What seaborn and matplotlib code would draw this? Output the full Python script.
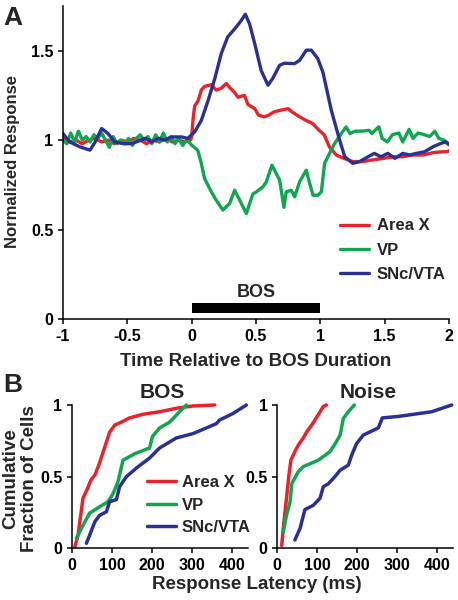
import seaborn as sns
import matplotlib.pyplot as plt
from matplotlib.patches import Rectangle

# ---- Panel A: normalized response vs time (relative to BOS duration) ----
areax_t = [-1.00, -0.95, -0.90, -0.85, -0.80, -0.75, -0.70, -0.65, -0.60, -0.55, -0.50, -0.45,
           -0.40, -0.35, -0.30, -0.25, -0.20, -0.15, -0.10, -0.05, -0.01,
           0.00, 0.01, 0.023, 0.05, 0.075, 0.10, 0.153, 0.19, 0.23, 0.27, 0.30, 0.33, 0.36,
           0.41, 0.437, 0.49, 0.52, 0.565, 0.60, 0.64, 0.69, 0.75, 0.78, 0.84, 0.89, 0.94,
           0.99, 1.03, 1.07, 1.124, 1.176, 1.253, 1.33, 1.41, 1.49, 1.565, 1.64, 1.72, 1.80,
           1.876, 1.95, 1.98, 2.00]
areax_r = [1.01, 0.99, 1.00, 0.98, 1.00, 1.01, 0.99, 1.00, 0.98, 1.00, 0.99, 1.01,
           1.00, 0.98, 1.00, 0.99, 1.01, 0.99, 1.00, 0.99, 1.00,
           1.018, 1.11, 1.19, 1.22, 1.28, 1.30, 1.31, 1.28, 1.29, 1.317, 1.29, 1.27, 1.24,
           1.25, 1.20, 1.176, 1.14, 1.13, 1.14, 1.158, 1.167, 1.176, 1.158, 1.13, 1.11, 1.093,
           1.055, 1.03, 0.963, 0.917, 0.90, 0.88, 0.88, 0.89, 0.898, 0.907, 0.907, 0.917, 0.917,
           0.93, 0.935, 0.935, 0.94]

vp_t = [-1.00, -0.97, -0.94, -0.91, -0.88, -0.85, -0.82, -0.79, -0.76, -0.73, -0.70, -0.67,
        -0.64, -0.61, -0.58, -0.55, -0.52, -0.49, -0.46, -0.43, -0.40, -0.37, -0.34, -0.31,
        -0.28, -0.25, -0.22, -0.19, -0.16, -0.13, -0.10, -0.07, -0.04, -0.01,
        0.00, 0.047, 0.075, 0.10, 0.153, 0.19, 0.243, 0.295, 0.334, 0.373, 0.425, 0.476, 0.502,
        0.554, 0.58, 0.624, 0.66, 0.684, 0.717, 0.735, 0.774, 0.80, 0.839, 0.865, 0.891, 0.917,
        0.943, 0.982, 1.008, 1.033, 1.072, 1.11, 1.163, 1.20, 1.23, 1.27, 1.32, 1.38, 1.40,
        1.455, 1.48, 1.52, 1.56, 1.61, 1.64, 1.69, 1.72, 1.76, 1.81, 1.85, 1.89, 1.92, 1.96, 2.00]
vp_r = [1.00, 0.98, 1.04, 0.99, 1.05, 1.00, 1.02, 0.99, 1.03, 1.01, 1.04, 1.00,
        0.96, 1.02, 0.98, 1.00, 0.98, 1.01, 0.97, 1.01, 1.03, 1.00, 1.02, 0.98,
        1.03, 0.99, 1.04, 0.99, 1.02, 0.98, 1.01, 0.97, 1.00, 0.98,
        0.972, 0.944, 0.87, 0.786, 0.711, 0.665, 0.609, 0.646, 0.72, 0.665, 0.59, 0.70, 0.71,
        0.739, 0.767, 0.86, 0.81, 0.776, 0.624, 0.711, 0.72, 0.683, 0.767, 0.80, 0.832, 0.758,
        0.692, 0.692, 0.711, 0.87, 0.926, 0.98, 1.037, 1.074, 1.037, 1.05, 1.05, 1.055, 1.037,
        1.075, 1.01, 0.99, 1.03, 1.04, 0.99, 1.06, 1.01, 1.04, 1.03, 1.02, 1.05, 1.01, 1.00, 0.98]

snc_t = [-1.00, -0.948, -0.87, -0.79, -0.75, -0.70, -0.65, -0.60, -0.53, -0.47, -0.43, -0.36,
         -0.31, -0.26, -0.21, -0.16, -0.08, -0.03, 0.023, 0.075, 0.127, 0.18, 0.23, 0.28,
         0.347, 0.386, 0.417, 0.45, 0.49, 0.54, 0.593, 0.63, 0.684, 0.72, 0.80, 0.84, 0.891,
         0.93, 0.98, 1.02, 1.085, 1.15, 1.19, 1.253, 1.305, 1.37, 1.42, 1.47, 1.525, 1.58,
         1.64, 1.695, 1.746, 1.81, 1.876, 1.93, 1.97, 2.00]
snc_r = [1.037, 0.99, 0.963, 0.944, 0.99, 1.065, 1.037, 0.99, 0.98, 0.98, 0.99, 1.01,
         0.99, 1.01, 1.00, 1.018, 1.018, 1.01, 1.046, 1.11, 1.22, 1.345, 1.484, 1.577,
         1.633, 1.67, 1.704, 1.65, 1.54, 1.39, 1.307, 1.345, 1.419, 1.43, 1.428, 1.447, 1.503,
         1.503, 1.456, 1.38, 1.168, 1.00, 0.907, 0.87, 0.88, 0.907, 0.926, 0.907, 0.926, 0.898,
         0.926, 0.917, 0.926, 0.935, 0.963, 0.98, 0.99, 0.975]

bos_start, bos_end = 0, 1

# ---- Panel B: cumulative latency distributions (ms) ----
bos_areax_ms = [7, 15, 27.5, 36, 48, 57, 67, 77.5, 86, 94, 107, 123, 144, 177, 219, 261, 302, 357]
bos_areax_f = [0.01, 0.09, 0.35, 0.40, 0.48, 0.51, 0.58, 0.67, 0.74, 0.81, 0.86, 0.88, 0.91,
               0.935, 0.953, 0.977, 0.993, 1.0]
bos_vp_ms = [11, 27.5, 44, 69, 90, 102.5, 115, 127.5, 157, 194, 201, 219, 244, 269, 286]
bos_vp_f = [0.07, 0.16, 0.245, 0.29, 0.325, 0.38, 0.465, 0.615, 0.66, 0.70, 0.78, 0.84, 0.88,
            0.953, 1.0]
bos_snc_ms = [36, 44, 57, 69, 86, 94, 111, 119, 136, 161, 194, 219, 261, 302, 336, 361, 369,
              402, 436]
bos_snc_f = [0.035, 0.09, 0.185, 0.23, 0.255, 0.325, 0.34, 0.43, 0.50, 0.56, 0.63, 0.70, 0.77,
             0.80, 0.84, 0.87, 0.895, 0.94, 1.0]

noise_areax_ms = [11, 15, 23, 29, 34, 44, 52.5, 65, 73, 86, 94, 107, 115, 123]
noise_areax_f = [0.02, 0.14, 0.35, 0.51, 0.615, 0.675, 0.72, 0.77, 0.81, 0.86, 0.895, 0.953,
                 0.99, 1.0]
noise_vp_ms = [15, 23, 32, 36, 52.5, 65, 102.5, 132, 148, 157, 165, 177.5, 192.5]
noise_vp_f = [0.116, 0.23, 0.325, 0.45, 0.535, 0.57, 0.615, 0.675, 0.745, 0.79, 0.905, 0.953, 1.0]
noise_snc_ms = [44, 57, 69, 90, 107, 115, 127.5, 144, 157, 177.5, 186, 198, 215, 252.5, 262.5,
                302, 386, 436]
noise_snc_f = [0.058, 0.14, 0.27, 0.30, 0.35, 0.43, 0.45, 0.50, 0.545, 0.58, 0.65, 0.73, 0.79,
               0.84, 0.91, 0.92, 0.953, 1.0]

labels = ['Area X', 'VP', 'SNc/VTA']
colors = ['#E8232B', '#10A650', '#2B3192']

sns.set_style('ticks')
plt.rcParams['font.family'] = ['Liberation Sans', 'DejaVu Sans']
plt.rcParams['font.weight'] = 'bold'
plt.rcParams['axes.linewidth'] = 1.1
plt.rcParams['xtick.major.width'] = 1.1
plt.rcParams['ytick.major.width'] = 1.1
plt.rcParams['xtick.major.size'] = 3.5
plt.rcParams['ytick.major.size'] = 3.5
plt.rcParams['xtick.labelsize'] = 11.5
plt.rcParams['ytick.labelsize'] = 11.5
plt.rcParams['xtick.color'] = 'black'
plt.rcParams['ytick.color'] = 'black'
plt.rcParams['axes.edgecolor'] = 'black'

W, H = 458, 600
fig = plt.figure(figsize=(4.58, 6.0), dpi=100)

# Panel A
axA = fig.add_axes([63 / W, 1 - 319 / H, 386 / W, 313 / H])
for t, r, c, lab in zip([areax_t, vp_t, snc_t], [areax_r, vp_r, snc_r], colors, labels):
    sns.lineplot(x=t, y=r, color=c, lw=2.4, label=lab, ax=axA, estimator=None, sort=False)
axA.add_patch(Rectangle((bos_start, 0.035), bos_end - bos_start, 0.056, color='black', lw=0))
axA.text((bos_start + bos_end) / 2, 0.15, 'BOS', ha='center', va='center', fontsize=13,
         fontweight='bold')
axA.set_xlim(-1, 2)
axA.set_ylim(0, 1.75)
axA.set_xticks([-1, -0.5, 0, 0.5, 1, 1.5, 2])
axA.set_xticklabels(['-1', '-0.5', '0', '0.5', '1', '1.5', '2'])
axA.set_yticks([0, 0.5, 1, 1.5])
axA.set_yticklabels(['0', '0.5', '1', '1.5'])
axA.legend(loc='center left', bbox_to_anchor=(340 / W, 1 - 250 / H), bbox_transform=fig.transFigure,
           frameon=False, fontsize=12, handlelength=1.75, handletextpad=0.45, labelspacing=0.55,
           borderpad=0, borderaxespad=0)
sns.despine(ax=axA)

fig.text(13 / W, 1 - 162 / H, 'Normalized Response', rotation=90, ha='center', va='center',
         fontsize=12, fontweight='bold')
fig.text(256 / W, 1 - 366 / H, 'Time Relative to BOS Duration', ha='center', va='baseline',
         fontsize=13.5, fontweight='bold')
fig.text(3 / W, 1 - 25 / H, 'A', fontsize=19, fontweight='bold', va='baseline')

# Panel B
axB1 = fig.add_axes([72 / W, 1 - 548.3 / H, 176 / W, 143.3 / H])
axB2 = fig.add_axes([277.3 / W, 1 - 548.3 / H, 176 / W, 143.3 / H])
bos_sets = [(bos_areax_ms, bos_areax_f), (bos_vp_ms, bos_vp_f), (bos_snc_ms, bos_snc_f)]
noise_sets = [(noise_areax_ms, noise_areax_f), (noise_vp_ms, noise_vp_f),
              (noise_snc_ms, noise_snc_f)]
for ax, sets, show in [(axB1, bos_sets, True), (axB2, noise_sets, False)]:
    for (ms, f), c, lab in zip(sets, colors, labels):
        sns.lineplot(x=ms, y=f, color=c, lw=2.5, label=lab if show else None, ax=ax,
                     estimator=None, sort=False, clip_on=False)
    ax.set_xlim(0, 440)
    ax.set_ylim(0, 1)
    ax.set_xticks([0, 100, 200, 300, 400])
    ax.set_xticklabels(['0', '100', '200', '300', '400'])
    ax.set_yticks([0, 0.5, 1])
    ax.set_yticklabels(['0', '0.5', '1'])
    sns.despine(ax=ax)
axB1.legend(loc='center left', bbox_to_anchor=(147 / W, 1 - 505 / H), bbox_transform=fig.transFigure,
            frameon=False, fontsize=12, handlelength=1.75, handletextpad=0.35, labelspacing=0.45,
            borderpad=0, borderaxespad=0)
if axB2.get_legend() is not None:
    axB2.get_legend().remove()

fig.text(162 / W, 1 - 397.7 / H, 'BOS', ha='center', va='baseline', fontsize=15, fontweight='bold')
fig.text(368 / W, 1 - 397.7 / H, 'Noise', ha='center', va='baseline', fontsize=15,
         fontweight='bold')
fig.text(20 / W, 1 - 479 / H, 'Cumulative\nFraction of Cells', rotation=90, ha='center',
         va='center', fontsize=13.5, fontweight='bold', linespacing=1.15)
fig.text(257 / W, 1 - 589 / H, 'Response Latency (ms)', ha='center', va='baseline', fontsize=13.5,
         fontweight='bold')
fig.text(3 / W, 1 - 392 / H, 'B', fontsize=19, fontweight='bold', va='baseline')

fig.savefig('out.png', dpi=100)
